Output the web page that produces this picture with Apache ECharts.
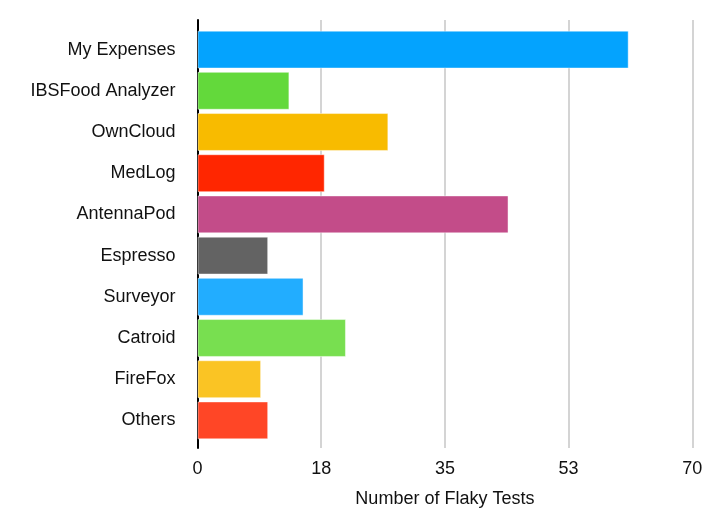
<!doctype html>
<html lang="en">
<head>
<meta charset="UTF-8">
<title>Flaky Tests</title>
<script src="https://cdn.jsdelivr.net/npm/echarts@6/dist/echarts.min.js"></script>
<style>
  html, body { margin: 0; padding: 0; background: #fff; }
  #main { width: 705px; height: 508px; }
</style>
</head>
<body>
<div id="main"></div>
<script>
// data
var apps = ['My Expenses', 'IBSFood Analyzer', 'OwnCloud', 'MedLog', 'AntennaPod',
            'Espresso', 'Surveyor', 'Catroid', 'FireFox', 'Others'];
var flakyCounts = [61, 13, 27, 18, 44, 10, 15, 21, 9, 10];
var barColors = ['#04a3fe', '#63d93b', '#f8bb00', '#ff2600', '#c34c89',
                 '#636363', '#22adff', '#78df50', '#fac424', '#ff4626'];
var axisMax = 70;
var axisStep = 17.5;

var myChart = echarts.init(document.getElementById('main'));

var font = '"Liberation Sans", Arial, Helvetica, sans-serif';

var option = {
    animation: false,
    backgroundColor: '#fff',
    grid: [
        // outer grid: gridlines + black axis line + value labels
        { left: 197.5, right: 12.7, top: 20, bottom: 60, outerBoundsMode: 'none' },
        // inner grid: the bars + category labels
        { left: 197.5, right: 12.7, top: 29, bottom: 67, outerBoundsMode: 'none' }
    ],
    xAxis: [
        {
            gridIndex: 0,
            type: 'value',
            min: 0,
            max: axisMax,
            interval: axisStep,
            axisLine: { show: false },
            axisTick: { show: false },
            splitLine: { show: true, lineStyle: { color: '#c6c6c6', width: 1.5 } },
            axisLabel: {
                margin: 12,
                fontSize: 18,
                color: '#111',
                fontFamily: font,
                formatter: function (v) { return Math.round(v); }
            },
            name: 'Number of Flaky Tests',
            nameLocation: 'middle',
            nameGap: 42,
            nameTextStyle: { fontSize: 18, color: '#111', fontFamily: font }
        },
        {
            gridIndex: 1,
            type: 'value',
            min: 0,
            max: axisMax,
            show: false
        }
    ],
    yAxis: [
        {
            gridIndex: 0,
            type: 'value',
            min: 0,
            max: 1,
            axisLine: { show: true, lineStyle: { color: '#000', width: 2 } },
            axisTick: { show: false },
            axisLabel: { show: false },
            splitLine: { show: false }
        },
        {
            gridIndex: 1,
            type: 'category',
            inverse: true,
            data: apps,
            axisLine: { show: false },
            axisTick: { show: false },
            axisLabel: {
                margin: 22,
                fontSize: 18,
                color: '#111',
                fontFamily: font
            }
        }
    ],
    series: [
        {
            type: 'bar',
            xAxisIndex: 1,
            yAxisIndex: 1,
            barCategoryGap: '8%',
            data: flakyCounts.map(function (v, i) {
                return {
                    value: v,
                    itemStyle: {
                        color: barColors[i],
                        borderColor: 'rgba(255,255,255,0.45)',
                        borderWidth: 1
                    }
                };
            })
        }
    ]
};

myChart.setOption(option);
</script>
</body>
</html>
